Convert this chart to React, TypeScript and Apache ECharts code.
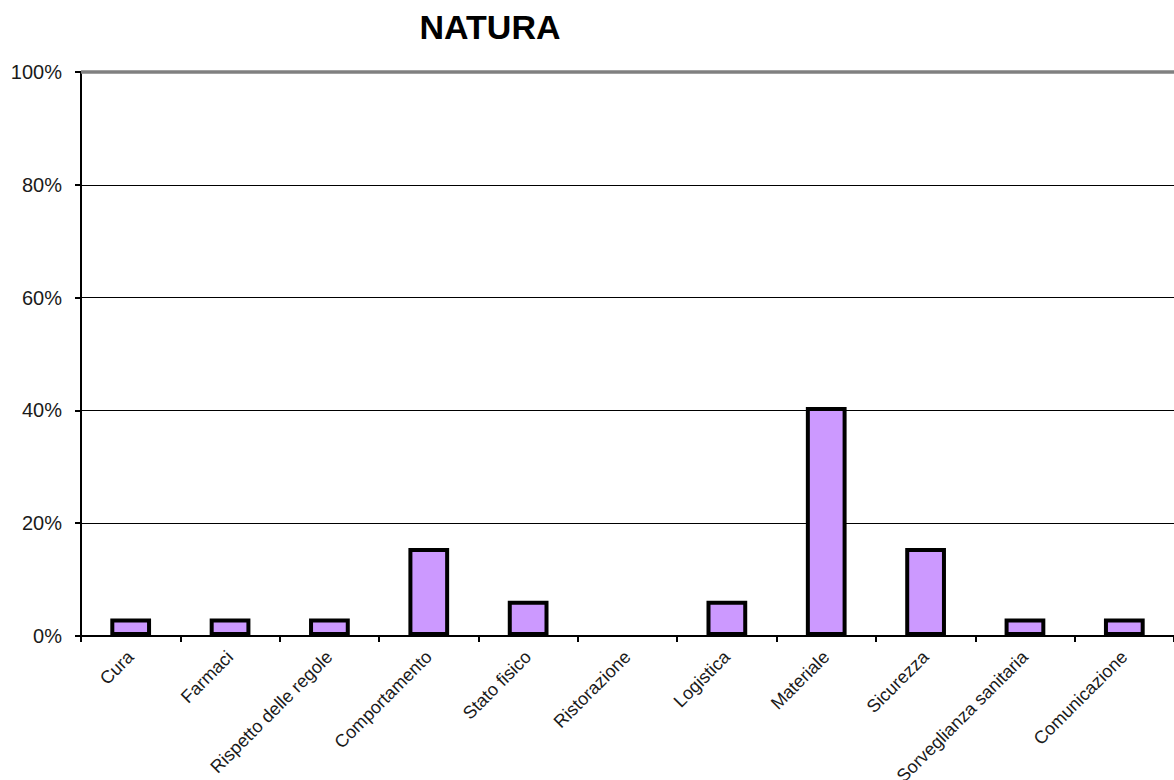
import React, { useEffect, useRef } from "react";
import * as echarts from "echarts";

const categories = [
  "Cura",
  "Farmaci",
  "Rispetto delle regole",
  "Comportamento",
  "Stato fisico",
  "Ristorazione",
  "Logistica",
  "Materiale",
  "Sicurezza",
  "Sorveglianza sanitaria",
  "Comunicazione",
];
const values = [3.125, 3.125, 3.125, 15.625, 6.25, 0, 6.25, 40.625, 15.625, 3.125, 3.125];
const titleText = "NATURA";

export default function App() {
  const ref = useRef<HTMLDivElement>(null);
  useEffect(() => {
    if (!ref.current) return;
    const chart = echarts.init(ref.current, null, { renderer: "svg" });
    const font = "Liberation Sans, Arial, sans-serif";
    chart.setOption({
      animation: false,
      backgroundColor: "#ffffff",
      title: {
        text: titleText,
        left: 485,
        top: 5,
        textAlign: "center",
        textStyle: {
          fontFamily: font,
          fontWeight: "bold",
          fontSize: 34,
          color: "#000",
        },
      },
      grid: {
        left: 81,
        right: 0,
        top: 72,
        bottom: 144,
        containLabel: false,
        outerBoundsMode: "none",
      },
      xAxis: {
        type: "category",
        data: categories,
        boundaryGap: true,
        axisLine: { show: true, lineStyle: { color: "#000", width: 2 } },
        axisTick: { show: true, alignWithLabel: false, length: 6, lineStyle: { color: "#000", width: 2 } },
        axisLabel: {
          rotate: 45,
          interval: 0,
          margin: 18,
          fontFamily: font,
          fontSize: 18,
          color: "#1a1a1a",
        },
        splitLine: { show: false },
      },
      yAxis: {
        type: "value",
        min: 0,
        max: 100,
        interval: 20,
        axisLine: { show: true, lineStyle: { color: "#000", width: 2 } },
        axisTick: { show: true, length: 6, lineStyle: { color: "#000", width: 2 } },
        axisLabel: {
          formatter: "{value}%",
          margin: 19,
          fontFamily: font,
          fontSize: 20,
          color: "#1a1a1a",
        },
        splitLine: { show: true, lineStyle: { color: "#000", width: 1 } },
      },
      series: [
        {
          type: "bar",
          data: values.map((v) =>
            v === 0 ? { value: v, itemStyle: { borderWidth: 0 } } : v
          ),
          barWidth: "41%",
          itemStyle: { color: "#CC99FF", borderColor: "#000", borderWidth: 4 },
          markLine: {
            silent: true,
            symbol: "none",
            label: { show: false },
            lineStyle: { color: "#808080", width: 3.5, type: "solid" },
            data: [{ yAxis: 100 }],
          },
        },
      ],
    });
    return () => chart.dispose();
  }, []);
  return (
    <div
      ref={ref}
      style={{ position: "fixed", left: 0, top: 0, width: 1174, height: 780 }}
    />
  );
}
